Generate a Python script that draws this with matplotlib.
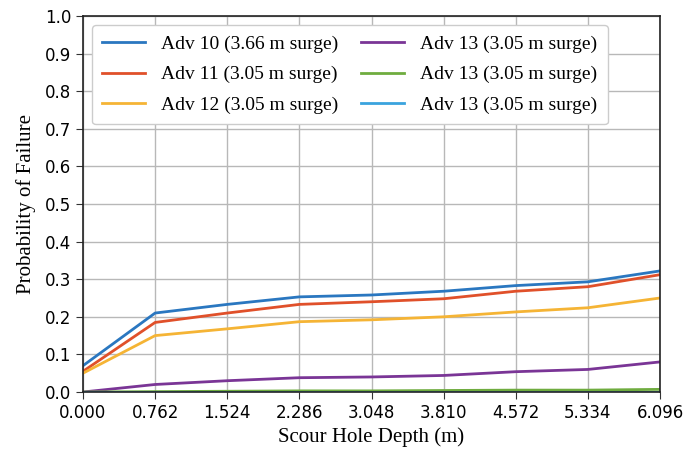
import matplotlib
matplotlib.use("Agg")
import matplotlib.pyplot as plt

depth = [0.000, 0.762, 1.524, 2.286, 3.048, 3.810, 4.572, 5.334, 6.096]
xtick_labels = ["0.000", "0.762", "1.524", "2.286", "3.048", "3.810", "4.572", "5.334", "6.096"]
adv10 = [0.07, 0.21, 0.233, 0.253, 0.258, 0.268, 0.283, 0.293, 0.322]
adv11 = [0.055, 0.185, 0.21, 0.233, 0.240, 0.248, 0.268, 0.280, 0.312]
adv12 = [0.05, 0.15, 0.168, 0.187, 0.192, 0.200, 0.213, 0.224, 0.250]
adv13a = [0.0, 0.02, 0.03, 0.038, 0.040, 0.044, 0.054, 0.060, 0.080]
adv13b = [0.0, 0.001, 0.002, 0.003, 0.003, 0.004, 0.005, 0.005, 0.007]
adv13c = [0.0, 0.0, 0.0, 0.0, 0.0, 0.0, 0.0, 0.0, 0.0]
labels = ["Adv 10 (3.66 m surge)", "Adv 11 (3.05 m surge)", "Adv 12 (3.05 m surge)",
          "Adv 13 (3.05 m surge)", "Adv 13 (3.05 m surge)", "Adv 13 (3.05 m surge)"]
colors = ["#2a77c0", "#e0502a", "#f5b435", "#7a3596", "#6fac3f", "#3aa3de"]

fig = plt.figure(figsize=(6.87, 4.5), dpi=100)
ax = fig.add_axes([83/687, 58/450, 577/687, 376/450])
for ys, lab, c in zip([adv10, adv11, adv12, adv13a, adv13b, adv13c], labels, colors):
    ax.plot(depth, ys, color=c, lw=2, label=lab)
ax.set_xlim(0, 6.096)
ax.set_ylim(0, 1.0)
ax.set_xticks(depth)
ax.set_xticklabels(xtick_labels)
ax.set_yticks([i/10 for i in range(11)])
ax.tick_params(labelsize=12, color="#333333", length=5)
for s in ax.spines.values():
    s.set_color("#222222")
    s.set_linewidth(1.2)
ax.grid(True, color="#b8b8b8", lw=1)
serif = {"family": "Liberation Serif", "size": 15}
ax.set_xlabel("Scour Hole Depth (m)", fontdict=serif, labelpad=4)
ax.set_ylabel("Probability of Failure", fontdict=serif, labelpad=6)
leg = ax.legend(ncol=2, loc="upper left", prop={"family": "Liberation Serif", "size": 14},
                handlelength=2.2, columnspacing=1.2, labelspacing=0.65, borderpad=0.55,
                borderaxespad=0.45, framealpha=1)
fig.savefig("out.png", dpi=100)
